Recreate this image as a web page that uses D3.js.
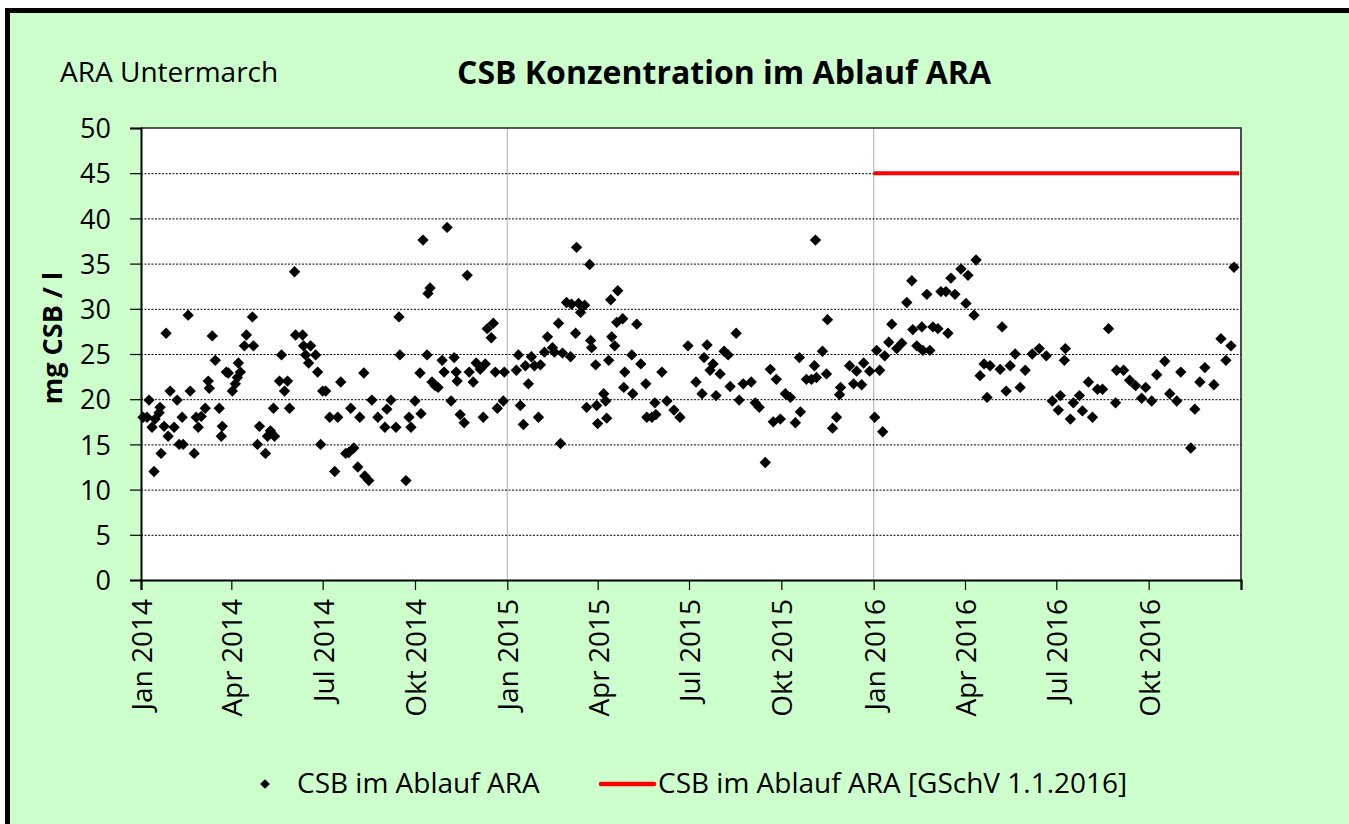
<!DOCTYPE html>
<html><head><meta charset="utf-8">
<script src="https://cdn.jsdelivr.net/npm/d3@7"></script>
<style>
html,body{margin:0;padding:0;background:#fff;}
svg{display:block;font-family:"Open Sans",sans-serif;}
</style></head>
<body>
<svg id="chart" width="1349" height="824"></svg>
<script>
// Days since 1 Jan 2014 of each measurement
const dayOffsets = [2,6,8,11,13,14,18,19,20,23,25,27,29,33,36,38,41,42,47,49,53,55,57,60,64,67,68,71,74,78,80,81,85,87,91,94,96,97,99,103,105,111,112,116,118,124,126,129,132,133,138,140,143,146,148,153,154,161,162,164,167,169,174,176,179,181,184,
188,193,196,199,204,207,209,212,216,218,222,223,227,230,236,243,245,249,254,257,258,264,267,269,273,278,279,281,285,286,288,290,293,296,300,302,305,309,312,314,315,318,322,325,327,331,334,338,341,343,345,349,351,353,355,361,362,
374,376,378,381,383,386,389,392,396,398,402,405,410,412,416,418,420,424,428,429,433,434,436,438,442,444,447,448,449,453,454,455,461,463,464,466,468,469,472,474,475,480,481,482,489,490,494,498,503,504,509,512,513,519,524,531,537,545,553,559,561,564,
567,570,573,577,581,585,587,593,596,600,608,612,616,622,627,630,633,637,642,647,652,656,657,663,668,671,672,673,679,683,684,689,693,696,697,706,710,713,718,720,726,
731,733,736,739,741,745,748,753,758,763,768,769,773,778,779,783,786,789,794,797,802,804,807,811,817,822,824,830,832,836,840,843,846,856,858,862,866,871,876,881,888,895,902,908,914,916,920,921,926,
929,935,938,944,948,953,958,964,971,972,979,985,991,997,1001,1007,1012,1020,1025,1032,1036,1046,1050,1055,1060,1069,1076,1081,1086,1089];
// CSB im Ablauf ARA, mg/l
const csbValues = [18.0,18.0,19.9,16.9,12.0,17.8,18.5,19.1,14.0,17.0,27.3,15.9,20.9,16.9,19.9,15.0,18.0,15.0,29.3,20.9,14.0,18.0,16.9,18.1,19.0,22.0,21.2,27.0,24.3,19.0,15.9,17.0,23.0,22.9,20.9,21.7,22.4,24.0,23.0,25.9,27.1,29.1,25.9,15.0,17.0,14.0,15.9,16.5,19.0,15.9,22.0,24.9,20.9,22.0,19.0,34.1,27.1,27.1,25.9,24.9,24.0,25.9,24.9,23.0,15.0,20.9,20.9,
18.0,12.0,18.0,21.9,14.0,14.1,19.0,14.6,12.5,18.0,22.9,11.5,11.0,19.9,18.0,16.9,18.9,19.9,16.9,29.1,24.9,11.0,18.0,16.9,19.8,22.9,18.4,37.6,24.9,31.7,32.3,21.9,21.5,21.3,24.3,23.0,39.0,19.8,24.6,23.0,22.0,18.3,17.4,33.7,23.0,21.9,24.0,23.3,18.0,23.9,27.8,26.8,28.4,23.0,19.0,19.8,23.0,
23.2,24.9,19.3,17.2,23.7,21.7,24.7,23.7,18.0,23.8,25.2,26.9,25.7,25.2,28.4,15.1,25.1,30.7,24.7,30.5,27.3,36.8,30.6,29.6,30.4,19.1,34.9,26.5,25.7,23.8,19.3,17.3,20.6,19.8,17.9,24.3,31.0,26.9,25.9,28.5,32.0,28.9,21.3,23.0,24.9,20.6,28.3,23.9,21.7,18.0,18.0,19.6,18.3,23.0,19.8,18.8,18.0,25.9,21.9,20.6,24.6,26.0,
23.2,23.9,20.4,22.8,25.3,24.9,21.4,27.3,19.9,21.7,21.9,19.6,19.1,13.0,23.3,17.5,22.2,17.8,20.6,20.2,17.4,24.6,18.6,22.2,22.2,23.7,37.6,22.4,25.3,22.8,28.8,16.8,18.0,20.5,21.3,23.7,21.7,23.1,21.6,24.0,23.1,
18.0,25.4,23.2,16.4,24.8,26.3,28.3,25.6,26.2,30.7,33.1,27.7,25.9,28.0,25.4,31.6,25.4,28.0,27.8,31.9,31.9,27.3,33.4,31.6,34.4,30.6,33.7,29.3,35.4,22.6,23.9,20.2,23.7,23.3,28.0,20.9,23.7,25.0,21.3,23.2,25.0,25.6,24.8,19.8,18.8,20.4,24.3,25.6,17.8,
19.6,20.4,18.7,21.9,18.0,21.1,21.1,27.8,19.6,23.2,23.2,22.1,21.5,20.1,21.3,19.8,22.7,24.2,20.6,19.8,23.0,14.6,18.9,21.9,23.5,21.6,26.7,24.3,25.9,34.6];
// Limit GSchV from 1.1.2016
const limitDates = ["2016-01-01","2017-01-01"];
const limitValues = [45,45];
const yTicks = [0,5,10,15,20,25,30,35,40,45,50];
const monthNames = ["Jan","Feb","Mär","Apr","Mai","Jun","Jul","Aug","Sep","Okt","Nov","Dez"];
const titleText = "CSB Konzentration im Ablauf ARA";
const subtitleText = "ARA Untermarch";
const yLabel = "mg CSB / l";
const seriesNames = ["CSB im Ablauf ARA","CSB im Ablauf ARA [GSchV 1.1.2016]"];

const svg = d3.select("#chart");
const start = new Date(2014,0,1), end = new Date(2017,0,1);
const L = 141, R = 1241, T = 128, B = 580;
const x = d3.scaleTime().domain([start,end]).range([L,R]);
const y = d3.scaleLinear().domain([0,50]).range([B,T]);

// background frame
svg.append("rect").attr("x",7.5).attr("y",10.5).attr("width",1400).attr("height",900)
  .attr("fill","#CCFFCC").attr("stroke","#000").attr("stroke-width",5);

// plot area
svg.append("rect").attr("x",L).attr("y",T).attr("width",R-L).attr("height",B-T).attr("fill","#fff");

// vertical year gridlines
const yearTicks = d3.timeYear.range(new Date(2015,0,1), end);
svg.append("g").selectAll("line").data(yearTicks).join("line")
  .attr("x1",d=>x(d)).attr("x2",d=>x(d)).attr("y1",T).attr("y2",B)
  .attr("stroke","#BBBBBB").attr("stroke-width",1.2);

// horizontal gridlines
svg.append("g").selectAll("line").data(yTicks.filter(v=>v>0&&v<50)).join("line")
  .attr("x1",L).attr("x2",R).attr("y1",d=>y(d)+0.5).attr("y2",d=>y(d)+0.5)
  .attr("stroke","#000").attr("stroke-width",1).attr("stroke-dasharray","2,1.5");

// top/right border
svg.append("path").attr("d",`M${L},${T}H${R}V${B}`).attr("fill","none")
  .attr("stroke","#222").attr("stroke-width",1.6);

// y axis
const yAxis = svg.append("g").attr("transform",`translate(${L},0)`)
  .call(d3.axisLeft(y).tickValues(yTicks).tickSize(11).tickPadding(19));
yAxis.select(".domain").attr("stroke","#000").attr("stroke-width",2);
yAxis.selectAll(".tick line").attr("stroke","#000").attr("stroke-width",1.2);
yAxis.selectAll("text").attr("font-size",27).attr("fill","#000")
  .attr("font-family","'Open Sans',sans-serif").attr("dy","0.36em");

// x axis
const xTickDates = d3.timeMonth.every(3).range(start, d3.timeDay.offset(end,1));
const xAxis = svg.append("g").attr("transform",`translate(0,${B})`)
  .call(d3.axisBottom(x).tickValues(xTickDates).tickSize(10)
    .tickFormat(d => d < end ? monthNames[d.getMonth()] + " " + d.getFullYear() : ""));
xAxis.select(".domain").attr("stroke","#000").attr("stroke-width",2.2);
xAxis.selectAll(".tick line").attr("stroke","#000").attr("stroke-width",1.2);
xAxis.selectAll("text").attr("font-size",28).attr("fill","#000").attr("font-family","'Open Sans',sans-serif")
  .attr("transform","rotate(-90)").attr("text-anchor","end").attr("dy","0.37em").attr("x",-19).attr("y",0);

// limit line
const limitData = limitDates.map((d,i)=>({date:new Date(d+"T00:00:00"), v:limitValues[i]}));
svg.append("path").datum(limitData)
  .attr("d", d3.line().x(d=>Math.min(x(d.date),R-2)).y(d=>y(d.v)))
  .attr("stroke","#FF0000").attr("stroke-width",4).attr("fill","none");

// points
const pts = dayOffsets.map((d,i)=>({date:d3.timeDay.offset(start,d), v:csbValues[i]}));
const diamond = d3.symbol().type(d3.symbolDiamond2).size(82);
svg.append("g").selectAll("path").data(pts).join("path")
  .attr("d", diamond)
  .attr("transform", d=>`translate(${x(d.date)},${y(d.v)})`)
  .attr("fill","#000");

// titles
svg.append("text").attr("x",724).attr("y",84).attr("text-anchor","middle")
  .attr("font-size",32).attr("font-weight","bold").attr("fill","#000").text(titleText);
svg.append("text").attr("x",60).attr("y",82).attr("font-size",28).attr("fill","#000").text(subtitleText);
svg.append("text").attr("transform","translate(62,338) rotate(-90)").attr("text-anchor","middle")
  .attr("font-size",27).attr("font-weight","bold").attr("fill","#000").text(yLabel);

// legend
const lg = svg.append("g");
lg.append("path").attr("d", d3.symbol().type(d3.symbolDiamond2).size(60)())
  .attr("transform","translate(265,784)").attr("fill","#000");
lg.append("text").attr("x",297).attr("y",793).attr("font-size",28).attr("fill","#000").text(seriesNames[0]);
lg.append("line").attr("x1",601).attr("x2",654).attr("y1",784).attr("y2",784)
  .attr("stroke","#FF0000").attr("stroke-width",4.5).attr("stroke-linecap","round");
lg.append("text").attr("x",658).attr("y",793).attr("font-size",28).attr("fill","#000").text(seriesNames[1]);
</script>
</body></html>
